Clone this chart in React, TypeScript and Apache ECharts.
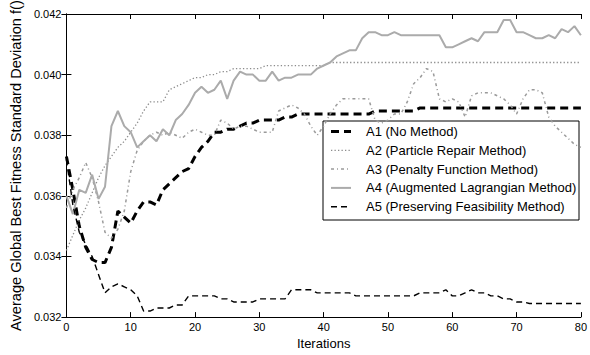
import React, { useEffect, useRef } from "react";
import * as echarts from "echarts";

const iterations: number[] = Array.from({ length: 81 }, (_, i) => i);

const seriesNames = [
  "A1 (No Method)",
  "A2 (Particle Repair Method)",
  "A3 (Penalty Function Method)",
  "A4 (Augmented Lagrangian Method)",
  "A5 (Preserving Feasibility Method)",
];

const a1: number[] = [
  0.0373, 0.0362, 0.0350, 0.0343, 0.0339, 0.0338, 0.0338, 0.0343, 0.0355, 0.0353,
  0.0351, 0.0355, 0.0358, 0.0358, 0.0357, 0.0362, 0.0364, 0.0366, 0.0368, 0.0369,
  0.0373, 0.0376, 0.0378, 0.0381, 0.0381, 0.0382, 0.0382, 0.0383, 0.0384, 0.0384,
  0.0385, 0.0385, 0.0385, 0.0385, 0.0386, 0.0386, 0.0387, 0.0387, 0.0387, 0.0387,
  0.0387, 0.0387, 0.0387, 0.0387, 0.0387, 0.0387, 0.0387, 0.0387, 0.0388, 0.0388,
  0.0388, 0.0388, 0.0388, 0.0388, 0.0388, 0.0389, 0.0389, 0.0389, 0.0389, 0.0389,
  0.0389, 0.0389, 0.0389, 0.0389, 0.0389, 0.0389, 0.0389, 0.0389, 0.0389, 0.0389,
  0.0389, 0.0389, 0.0389, 0.0389, 0.0389, 0.0389, 0.0389, 0.0389, 0.0389, 0.0389,
  0.0389,
];

const a2: number[] = [
  0.0342, 0.0347, 0.0352, 0.0356, 0.0361, 0.0366, 0.0370, 0.0373, 0.0376, 0.0378,
  0.0381, 0.0384, 0.0388, 0.0391, 0.0391, 0.0391, 0.0395, 0.0396, 0.0397, 0.0398,
  0.0399, 0.0399, 0.0400, 0.0400, 0.0401, 0.0401, 0.0402, 0.0402, 0.0402, 0.0402,
  0.0402, 0.0403, 0.0403, 0.0403, 0.0403, 0.0403, 0.0403, 0.0403, 0.0403, 0.0403,
  0.0403, 0.0404, 0.0404, 0.0404, 0.0404, 0.0404, 0.0404, 0.0404, 0.0404, 0.0404,
  0.0404, 0.0404, 0.0404, 0.0404, 0.0404, 0.0404, 0.0404, 0.0404, 0.0404, 0.0404,
  0.0404, 0.0404, 0.0404, 0.0404, 0.0404, 0.0404, 0.0404, 0.0404, 0.0404, 0.0404,
  0.0404, 0.0404, 0.0404, 0.0404, 0.0404, 0.0404, 0.0404, 0.0404, 0.0404, 0.0404,
  0.0404,
];

const a3: number[] = [
  0.0356, 0.0362, 0.0366, 0.0371, 0.0366, 0.0358, 0.0348, 0.0346, 0.0349, 0.0355,
  0.0368, 0.0375, 0.0378, 0.0380, 0.0381, 0.0380, 0.0381, 0.0380, 0.0379, 0.0381,
  0.0382, 0.0381, 0.0380, 0.0380, 0.0385, 0.0384, 0.0382, 0.0383, 0.0383, 0.0382,
  0.0381, 0.0381, 0.0381, 0.0388, 0.0389, 0.0390, 0.0389, 0.0387, 0.0383, 0.0380,
  0.0383, 0.0387, 0.0390, 0.0392, 0.0392, 0.0392, 0.0392, 0.0392, 0.0385, 0.0384,
  0.0385, 0.0387, 0.0387, 0.0391, 0.0397, 0.0399, 0.0402, 0.0401, 0.0392, 0.0391,
  0.0392, 0.0391, 0.0386, 0.0393, 0.0394, 0.0394, 0.0394, 0.0393, 0.0392, 0.0390,
  0.0387, 0.0392, 0.0395, 0.0395, 0.0394, 0.0386, 0.0383, 0.0381, 0.0379, 0.0377,
  0.0376,
];

const a4: number[] = [
  0.0360, 0.0354, 0.0362, 0.0361, 0.0367, 0.0359, 0.0363, 0.0383, 0.0388, 0.0383,
  0.0381, 0.0376, 0.0378, 0.0380, 0.0378, 0.0382, 0.0380, 0.0385, 0.0387, 0.0390,
  0.0394, 0.0396, 0.0394, 0.0395, 0.0398, 0.0392, 0.0398, 0.0401, 0.0400, 0.0400,
  0.0398, 0.0398, 0.0401, 0.0398, 0.0399, 0.0399, 0.0400, 0.0400, 0.0400, 0.0402,
  0.0403, 0.0404, 0.0406, 0.0407, 0.0408, 0.0408, 0.0412, 0.0414, 0.0414, 0.0413,
  0.0413, 0.0414, 0.0413, 0.0413, 0.0413, 0.0413, 0.0413, 0.0413, 0.0413, 0.0409,
  0.0409, 0.0410, 0.0411, 0.0412, 0.0411, 0.0414, 0.0414, 0.0414, 0.0418, 0.0418,
  0.0414, 0.0414, 0.0413, 0.0412, 0.0412, 0.0413, 0.0412, 0.0415, 0.0414, 0.0416,
  0.0413,
];

const a5: number[] = [
  0.0372, 0.0357, 0.0348, 0.0344, 0.0340, 0.0334, 0.0328, 0.0330, 0.0331, 0.0330,
  0.0329, 0.0327, 0.0322, 0.0322, 0.0323, 0.0323, 0.0323, 0.0324, 0.0324, 0.0327,
  0.0327, 0.0327, 0.0327, 0.0327, 0.0326, 0.0326, 0.0325, 0.0325, 0.0325, 0.0325,
  0.0326, 0.0326, 0.0326, 0.0326, 0.0326, 0.0329, 0.0329, 0.0329, 0.0329, 0.0328,
  0.0328, 0.0328, 0.0328, 0.0328, 0.0328, 0.0327, 0.0327, 0.0327, 0.0327, 0.0327,
  0.0327, 0.0327, 0.0327, 0.0327, 0.0327, 0.0328, 0.0328, 0.0328, 0.0328, 0.0329,
  0.0327, 0.0327, 0.0328, 0.0329, 0.0328, 0.0328, 0.0327, 0.0327, 0.0326, 0.0326,
  0.0325, 0.0325, 0.03245, 0.03245, 0.03245, 0.03245, 0.03245, 0.03245, 0.03245, 0.03245,
  0.03245,
];

const xTicks = { min: 0, max: 80, interval: 10 };
const yTicks = { min: 0.032, max: 0.042, interval: 0.002 };

const FONT = "'Liberation Sans', Arial, sans-serif";

export default function App() {
  const ref = useRef<HTMLDivElement>(null);

  useEffect(() => {
    if (!ref.current) return;
    const chart = echarts.init(ref.current, null, { renderer: "svg" });
    const pair = (arr: number[]) => iterations.map((x, i) => [x, arr[i]]);

    const styles: { color: string; width: number; dash: number[] | null }[] = [
      { color: "#000000", width: 3, dash: [8, 5] },
      { color: "#8c8c8c", width: 1.3, dash: [1.3, 2.2] },
      { color: "#9a9a9a", width: 1.5, dash: [3, 3, 1, 3] },
      { color: "#ababab", width: 2, dash: null },
      { color: "#000000", width: 1.4, dash: [6, 4] },
    ];
    const datasets = [a1, a2, a3, a4, a5];

    const axisCommon = {
      axisLine: { show: true, lineStyle: { color: "#000", width: 1 } },
      axisTick: { show: true, inside: true, length: 5, lineStyle: { color: "#000" } },
      splitLine: { show: false },
    };

    // legend box drawn as graphics
    const legX = 323;
    const legY = 121;
    const legW = 256;
    const legH = 99;
    const rowY0 = 131.5;
    const rowStep = 18.8;
    const legendChildren: any[] = [
      {
        type: "rect",
        shape: { x: legX, y: legY, width: legW, height: legH },
        style: { fill: "#fff", stroke: "#000", lineWidth: 1 },
      },
    ];
    seriesNames.forEach((name, k) => {
      const y = rowY0 + k * rowStep;
      legendChildren.push({
        type: "line",
        shape: { x1: 331, y1: y, x2: 351, y2: y },
        style: {
          stroke: styles[k].color,
          lineWidth: styles[k].width,
          lineDash: styles[k].dash || undefined,
        },
      });
      legendChildren.push({
        type: "text",
        x: 366,
        y: y,
        style: {
          text: name,
          fill: "#000",
          font: `13px ${FONT}`,
          verticalAlign: "middle",
          align: "left",
        },
      });
    });

    chart.setOption({
      animation: false,
      backgroundColor: "#fff",
      textStyle: { fontFamily: FONT },
      grid: { left: 58, right: 3, top: 14, bottom: 30, containLabel: false },
      xAxis: [
        {
          type: "value",
          ...xTicks,
          position: "bottom",
          ...axisCommon,
          axisLabel: { color: "#000", fontSize: 11, fontFamily: FONT, margin: 4 },
          name: "Iterations",
          nameLocation: "middle",
          nameGap: 17,
          nameTextStyle: { color: "#000", fontSize: 13, fontFamily: FONT },
        },
        {
          type: "value",
          ...xTicks,
          position: "top",
          ...axisCommon,
          axisLabel: { show: false },
        },
      ],
      yAxis: [
        {
          type: "value",
          ...yTicks,
          position: "left",
          ...axisCommon,
          axisLabel: {
            color: "#000",
            fontSize: 11,
            fontFamily: FONT,
            margin: 5,
            formatter: (v: number) => v.toFixed(3),
          },
          name: "Average Global Best Fitness Standard Deviation f()",
          nameLocation: "middle",
          nameGap: 42,
          nameRotate: 90,
          nameTextStyle: { color: "#000", fontSize: 14.6, fontFamily: FONT },
        },
        {
          type: "value",
          ...yTicks,
          position: "right",
          ...axisCommon,
          axisLabel: { show: false },
        },
      ],
      graphic: [{ type: "group", z: 100, children: legendChildren }],
      series: datasets.map((d, k) => ({
        name: seriesNames[k],
        type: "line",
        data: pair(d),
        symbol: "none",
        z: 2 + k,
        color: styles[k].color,
        lineStyle: {
          color: styles[k].color,
          width: styles[k].width,
          type: styles[k].dash || "solid",
        },
      })),
    });

    return () => chart.dispose();
  }, []);

  return (
    <div
      ref={ref}
      style={{ position: "fixed", left: 0, top: 0, width: 590, height: 355 }}
    />
  );
}
